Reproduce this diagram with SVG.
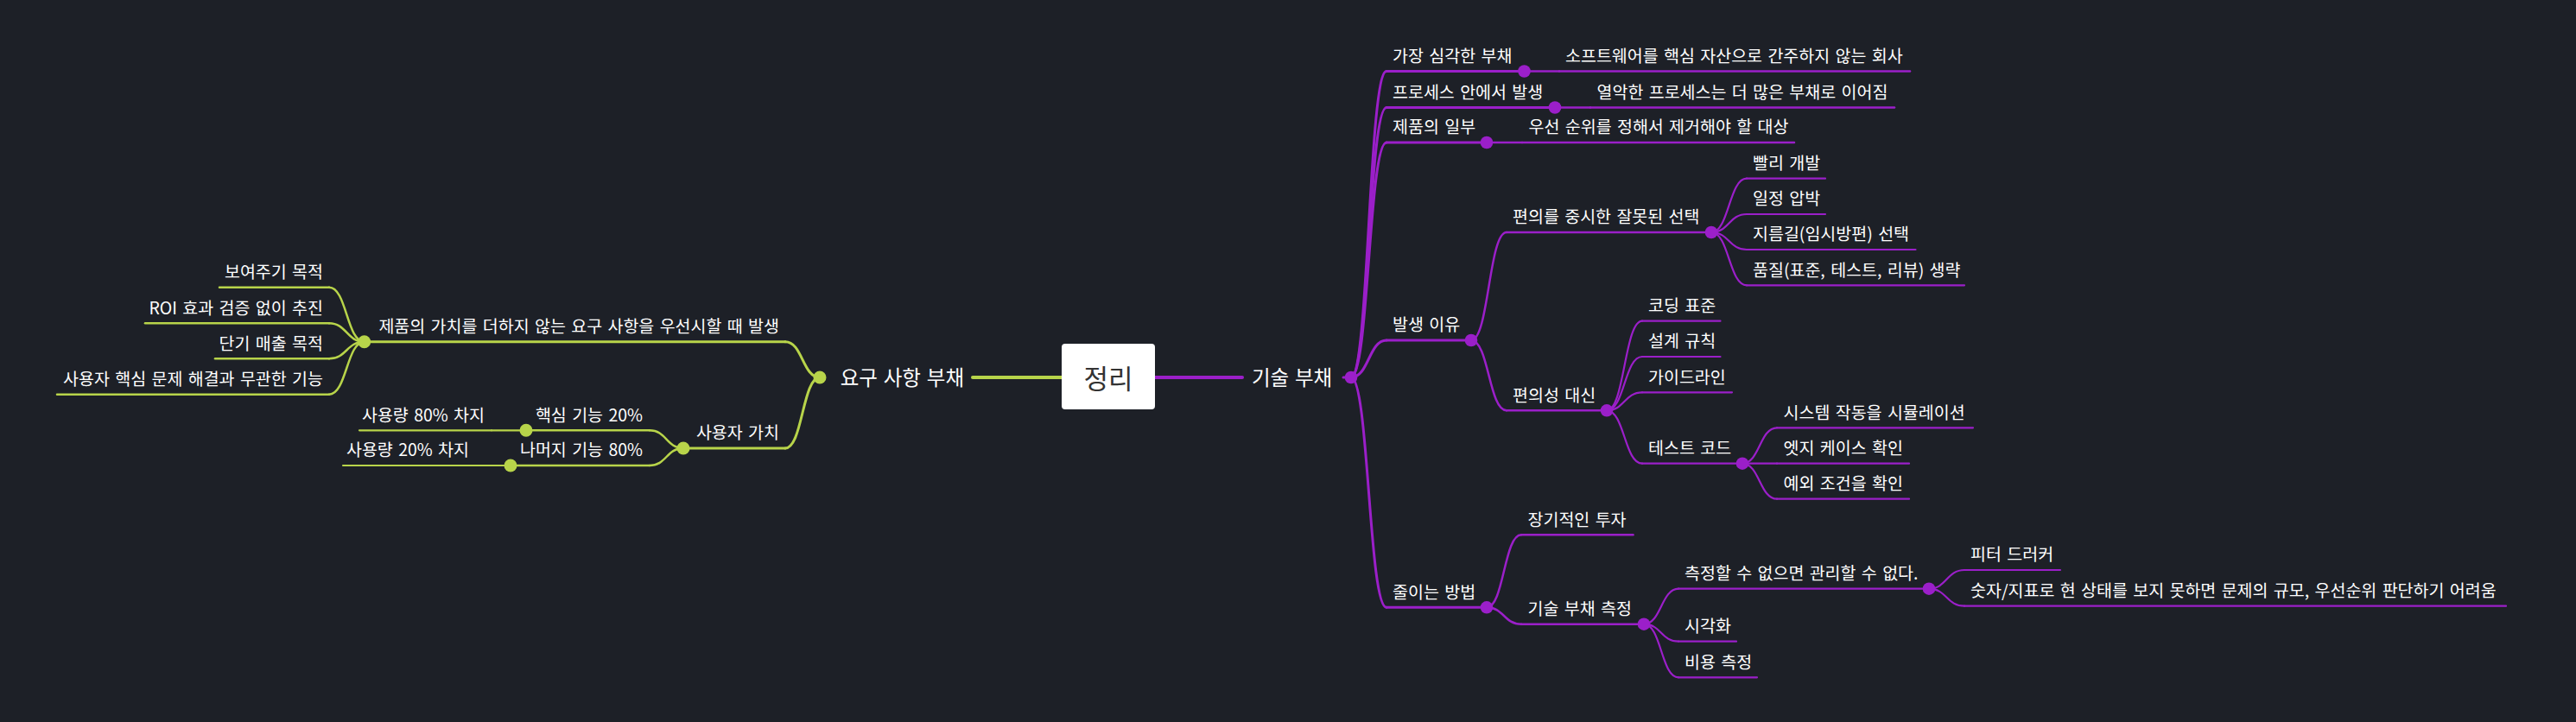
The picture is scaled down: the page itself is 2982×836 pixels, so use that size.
<svg xmlns="http://www.w3.org/2000/svg" width="2982" height="836" viewBox="0 0 2982 836">
<style>
.bg{fill:#1d2027}
.p{stroke:#9b1fc9;fill:none;stroke-linecap:round}
.g{stroke:#b8d44a;fill:none;stroke-linecap:round}
.w1{stroke-width:4}
.w2{stroke-width:3}
.w3{stroke-width:2.5}
.w4{stroke-width:2.2}
.dp{fill:#9b1fc9}
.dg{fill:#b8d44a}
.t{font-family:"Noto Sans CJK KR","Noto Sans",sans-serif;font-size:19.5px;fill:#ffffff;word-spacing:2px}
.t1{font-size:23.5px;word-spacing:1.5px}
.e{text-anchor:end}
.root{font-family:"Noto Sans CJK KR","Noto Sans",sans-serif;font-size:31px;fill:#333333;text-anchor:middle}
</style>
<rect class="bg" x="0" y="0" width="2982" height="836"/>

<g id="connectors">
  <path class="p w1" d="M1337,437 H1438"/>
  <path class="g w1" d="M1229,437 H1126"/>
  <path class="p w2" d="M1555,437 H1564"/>
  <path class="p w2" d="M1564,437 C1584.5,437 1584.5,82.5 1605,82.5"/>
  <path class="p w2" d="M1564,437 C1584.5,437 1584.5,124.5 1605,124.5"/>
  <path class="p w2" d="M1564,437 C1584.5,437 1584.5,165 1605,165"/>
  <path class="p w2" d="M1564,437 C1584.5,437 1584.5,394 1605,394"/>
  <path class="p w2" d="M1564,437 C1584.5,437 1584.5,703.3 1605,703.3"/>
  <path class="p w3" d="M1764.5,82.5 H1805"/>
  <path class="p w3" d="M1800,124.5 H1841"/>
  <path class="p w3" d="M1721,165 H1762"/>
  <path class="p w3" d="M1703,394 C1723.5,394 1723.5,269 1744,269"/>
  <path class="p w3" d="M1703,394 C1723.5,394 1723.5,475.3 1744,475.3"/>
  <path class="p w4" d="M1981,269 C2001.5,269 2001.5,206.7 2022,206.7"/>
  <path class="p w4" d="M1981,269 C2001.5,269 2001.5,248 2022,248"/>
  <path class="p w4" d="M1981,269 C2001.5,269 2001.5,289 2022,289"/>
  <path class="p w4" d="M1981,269 C2001.5,269 2001.5,330.3 2022,330.3"/>
  <path class="p w4" d="M1860,475.3 C1880.5,475.3 1880.5,371.7 1901,371.7"/>
  <path class="p w4" d="M1860,475.3 C1880.5,475.3 1880.5,413 1901,413"/>
  <path class="p w4" d="M1860,475.3 C1880.5,475.3 1880.5,454.3 1901,454.3"/>
  <path class="p w4" d="M1860,475.3 C1880.5,475.3 1880.5,536.7 1901,536.7"/>
  <path class="p w4" d="M2017,536.7 C2037,536.7 2037,495.3 2057,495.3"/>
  <path class="p w4" d="M2017,536.7 H2057"/>
  <path class="p w4" d="M2017,536.7 C2037,536.7 2037,577.7 2057,577.7"/>
  <path class="p w3" d="M1721,703.3 C1741,703.3 1741,619.3 1761,619.3"/>
  <path class="p w3" d="M1721,703.3 C1741,703.3 1741,722.7 1761,722.7"/>
  <path class="p w4" d="M1903,722.7 C1923,722.7 1923,681.7 1943,681.7"/>
  <path class="p w4" d="M1903,722.7 C1923,722.7 1923,742.7 1943,742.7"/>
  <path class="p w4" d="M1903,722.7 C1923,722.7 1923,784.3 1943,784.3"/>
  <path class="p w4" d="M2233,681.7 C2253.5,681.7 2253.5,660 2274,660"/>
  <path class="p w4" d="M2233,681.7 C2253.5,681.7 2253.5,701.7 2274,701.7"/>
  <path class="g w2" d="M949,437 C929,437 929,395.7 909,395.7"/>
  <path class="g w2" d="M949,437 C929,437 929,519 909,519"/>
  <path class="g w3" d="M421.7,395.7 C401.3,395.7 401.3,332.7 381,332.7"/>
  <path class="g w3" d="M421.7,395.7 C401.3,395.7 401.3,374.3 381,374.3"/>
  <path class="g w3" d="M421.7,395.7 C401.3,395.7 401.3,415.3 381,415.3"/>
  <path class="g w3" d="M421.7,395.7 C401.3,395.7 401.3,456.7 381,456.7"/>
  <path class="g w3" d="M791,519 C771.5,519 771.5,498.3 752,498.3"/>
  <path class="g w3" d="M791,519 C771.5,519 771.5,539 752,539"/>
  <path class="g w4" d="M609,498.3 H569"/>
  <path class="g w4" d="M591,539 H551"/>
</g>

<g id="root">
  <rect x="1229" y="398" width="108" height="76" rx="4" fill="#ffffff"/>
  <text class="root" x="1283" y="450">정리</text>
</g>

<g id="n-tech-debt">
  <text class="t t1" x="1449" y="445.5">기술 부채</text>
  <circle class="dp" cx="1564" cy="437" r="7.3"/>
</g>
<g id="n-req-debt">
  <text class="t t1 e" x="1116" y="445.5">요구 사항 부채</text>
  <circle class="dg" cx="949" cy="437" r="7.5"/>
</g>

<g id="n-serious">
  <path class="p w2" d="M1605,82.5 H1764.5"/>
  <text class="t" x="1612" y="71.8">가장 심각한 부채</text>
  <circle class="dp" cx="1764.5" cy="82.5" r="7.3"/>
</g>
<g id="n-serious-1">
  <path class="p w3" d="M1805,82.5 H2211"/>
  <text class="t" x="1812" y="71.8">소프트웨어를 핵심 자산으로 간주하지 않는 회사</text>
</g>
<g id="n-process">
  <path class="p w2" d="M1605,124.5 H1800"/>
  <text class="t" x="1612" y="113.8">프로세스 안에서 발생</text>
  <circle class="dp" cx="1800" cy="124.5" r="7.3"/>
</g>
<g id="n-process-1">
  <path class="p w3" d="M1841,124.5 H2193"/>
  <text class="t" x="1848.5" y="113.8">열악한 프로세스는 더 많은 부채로 이어짐</text>
</g>
<g id="n-part">
  <path class="p w2" d="M1605,165 H1721"/>
  <text class="t" x="1612" y="154.3">제품의 일부</text>
  <circle class="dp" cx="1721" cy="165" r="7.3"/>
</g>
<g id="n-part-1">
  <path class="p w3" d="M1762,165 H2077"/>
  <text class="t" x="1769.5" y="154.3">우선 순위를 정해서 제거해야 할 대상</text>
</g>
<g id="n-cause">
  <path class="p w2" d="M1605,394 H1703"/>
  <text class="t" x="1612" y="383.3">발생 이유</text>
  <circle class="dp" cx="1703" cy="394" r="7.3"/>
</g>
<g id="n-wrong-choice">
  <path class="p w3" d="M1744,269 H1981"/>
  <text class="t" x="1751" y="258.3">편의를 중시한 잘못된 선택</text>
  <circle class="dp" cx="1981" cy="269" r="7.3"/>
</g>
<g id="n-fast">
  <path class="p w4" d="M2022,206.7 H2113"/>
  <text class="t" x="2029" y="196">빨리 개발</text>
</g>
<g id="n-schedule">
  <path class="p w4" d="M2022,248 H2113"/>
  <text class="t" x="2029" y="237.3">일정 압박</text>
</g>
<g id="n-shortcut">
  <path class="p w4" d="M2022,289 H2217.5"/>
  <text class="t" x="2029" y="278.3">지름길(임시방편) 선택</text>
</g>
<g id="n-quality">
  <path class="p w4" d="M2022,330.3 H2274"/>
  <text class="t" x="2029" y="319.6">품질(표준, 테스트, 리뷰) 생략</text>
</g>
<g id="n-instead">
  <path class="p w3" d="M1744,475.3 H1860"/>
  <text class="t" x="1751" y="464.6">편의성 대신</text>
  <circle class="dp" cx="1860" cy="475.3" r="7.3"/>
</g>
<g id="n-coding">
  <path class="p w4" d="M1901,371.7 H1991.5"/>
  <text class="t" x="1908" y="361">코딩 표준</text>
</g>
<g id="n-design">
  <path class="p w4" d="M1901,413 H1991.5"/>
  <text class="t" x="1908" y="402.3">설계 규칙</text>
</g>
<g id="n-guide">
  <path class="p w4" d="M1901,454.3 H2005"/>
  <text class="t" x="1908" y="443.6">가이드라인</text>
</g>
<g id="n-test">
  <path class="p w4" d="M1901,536.7 H2017"/>
  <text class="t" x="1908" y="526">테스트 코드</text>
  <circle class="dp" cx="2017" cy="536.7" r="7.3"/>
</g>
<g id="n-simulate">
  <path class="p w4" d="M2057,495.3 H2284"/>
  <text class="t" x="2064.5" y="484.6">시스템 작동을 시뮬레이션</text>
</g>
<g id="n-edge">
  <path class="p w4" d="M2057,536.7 H2210"/>
  <text class="t" x="2064.5" y="526">엣지 케이스 확인</text>
</g>
<g id="n-exception">
  <path class="p w4" d="M2057,577.7 H2210"/>
  <text class="t" x="2064.5" y="567">예외 조건을 확인</text>
</g>
<g id="n-reduce">
  <path class="p w2" d="M1605,703.3 H1721"/>
  <text class="t" x="1612" y="692.6">줄이는 방법</text>
  <circle class="dp" cx="1721" cy="703.3" r="7.3"/>
</g>
<g id="n-invest">
  <path class="p w3" d="M1761,619.3 H1890.5"/>
  <text class="t" x="1768.5" y="608.6">장기적인 투자</text>
</g>
<g id="n-measure">
  <path class="p w3" d="M1761,722.7 H1903"/>
  <text class="t" x="1768.5" y="712">기술 부채 측정</text>
  <circle class="dp" cx="1903" cy="722.7" r="7.3"/>
</g>
<g id="n-cannot">
  <path class="p w4" d="M1943,681.7 H2233"/>
  <text class="t" x="1950" y="671">측정할 수 없으면 관리할 수 없다.</text>
  <circle class="dp" cx="2233" cy="681.7" r="7.3"/>
</g>
<g id="n-drucker">
  <path class="p w4" d="M2274,660 H2385"/>
  <text class="t" x="2281" y="649.3">피터 드러커</text>
</g>
<g id="n-numbers">
  <path class="p w4" d="M2274,701.7 H2901"/>
  <text class="t" x="2281" y="691">숫자/지표로 현 상태를 보지 못하면 문제의 규모, 우선순위 판단하기 어려움</text>
</g>
<g id="n-visual">
  <path class="p w4" d="M1943,742.7 H2010"/>
  <text class="t" x="1950" y="732">시각화</text>
</g>
<g id="n-cost">
  <path class="p w4" d="M1943,784.3 H2034"/>
  <text class="t" x="1950" y="773.6">비용 측정</text>
</g>

<g id="n-no-value">
  <path class="g w2" d="M909,395.7 H421.7"/>
  <text class="t e" x="902" y="385">제품의 가치를 더하지 않는 요구 사항을 우선시할 때 발생</text>
  <circle class="dg" cx="421.7" cy="395.7" r="7.5"/>
</g>
<g id="n-show">
  <path class="g w3" d="M381,332.7 H254"/>
  <text class="t e" x="374" y="322">보여주기 목적</text>
</g>
<g id="n-roi">
  <path class="g w3" d="M381,374.3 H168"/>
  <text class="t e" x="374" y="363.6">ROI 효과 검증 없이 추진</text>
</g>
<g id="n-sales">
  <path class="g w3" d="M381,415.3 H249"/>
  <text class="t e" x="374" y="404.6">단기 매출 목적</text>
</g>
<g id="n-unrelated">
  <path class="g w3" d="M381,456.7 H66"/>
  <text class="t e" x="374" y="446">사용자 핵심 문제 해결과 무관한 기능</text>
</g>
<g id="n-user-value">
  <path class="g w2" d="M909,519 H791"/>
  <text class="t e" x="902" y="508.3">사용자 가치</text>
  <circle class="dg" cx="791" cy="519" r="7.5"/>
</g>
<g id="n-core20">
  <path class="g w3" d="M752,498.3 H609"/>
  <text class="t e" x="744" y="487.6">핵심 기능 20%</text>
  <circle class="dg" cx="609" cy="498.3" r="7.5"/>
</g>
<g id="n-use80">
  <path class="g w4" d="M569,498.3 H416"/>
  <text class="t e" x="561" y="487.6">사용량 80% 차지</text>
</g>
<g id="n-rest80">
  <path class="g w3" d="M752,539 H591"/>
  <text class="t e" x="744" y="528.3">나머지 기능 80%</text>
  <circle class="dg" cx="591" cy="539" r="7.5"/>
</g>
<g id="n-use20">
  <path class="g w4" d="M551,539 H397"/>
  <text class="t e" x="543" y="528.3">사용량 20% 차지</text>
</g>
</svg>
